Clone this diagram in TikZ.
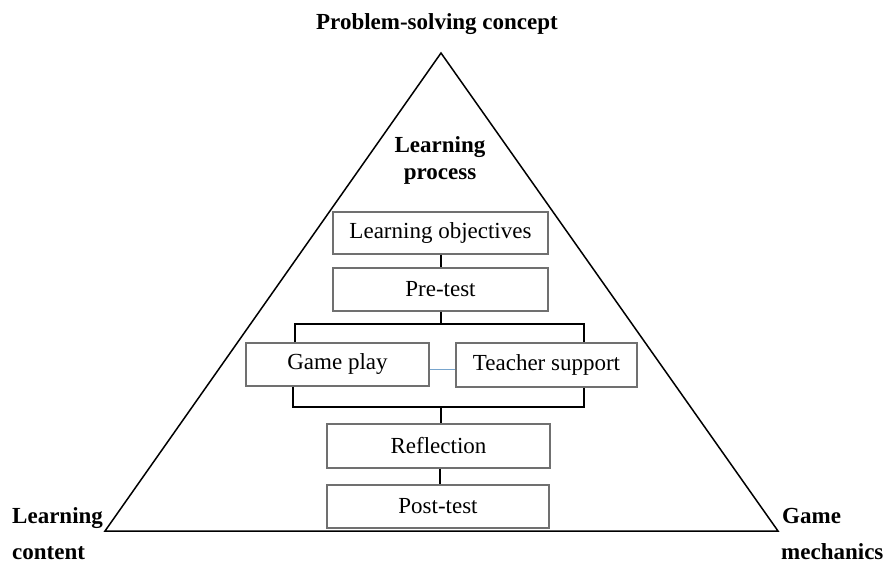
\documentclass[tikz,border=0pt]{standalone}
\usepackage{fontspec}
\setmainfont{Liberation Serif}
\definecolor{boxline}{RGB}{112,112,112}
\definecolor{softblue}{RGB}{120,165,205}
\begin{document}
\begin{tikzpicture}[x=1bp,y=-1bp,
  stepbox/.style={draw=boxline, line width=1.1bp, inner sep=0pt,
    font=\fontsize{23bp}{27bp}\selectfont, text=black},
  link/.style={line width=2bp, draw=black},
  heading/.style={font=\fontsize{23bp}{27bp}\selectfont\bfseries, inner sep=0pt},
]
\useasboundingbox (0,0) rectangle (887,564);

% outer triangle
\coordinate (apex) at (441,53);
\coordinate (lc) at (105,531);
\coordinate (rc) at (778,531);
\draw[line width=1.5bp] (apex) -- (rc) -- (lc) -- cycle;

% corner labels
\node[heading, anchor=base] (top) at (437,30) {Problem-solving concept};
\node[heading, anchor=base] (lp1) at (440,153) {Learning};
\node[heading, anchor=base] (lp2) at (440,180) {process};
\node[heading, anchor=base west] (lc1) at (12,523) {Learning};
\node[heading, anchor=base west] (lc2) at (12,559) {content};
\node[heading, anchor=base west] (gm1) at (782,523) {Game};
\node[heading, anchor=base west] (gm2) at (781,559) {mechanics};

% process steps
\node[stepbox, minimum width=215bp, minimum height=42bp] (obj) at (440.5,233) {Learning objectives};
\node[stepbox, minimum width=215bp, minimum height=43bp] (pre) at (440.5,289.5) {Pre-test};
\node[stepbox, minimum width=183bp, minimum height=43bp] (game) at (337.5,364.5) {Game play};
\node[stepbox, minimum width=181bp, minimum height=44bp] (teach) at (546.5,365) {Teacher support};
\node[stepbox, minimum width=223bp, minimum height=44bp] (refl) at (438.5,446) {Reflection};
\node[stepbox, minimum width=222bp, minimum height=43bp] (post) at (438,506.5) {Post-test};

% bracket junctions
\coordinate (tl) at (295,324);
\coordinate (tr) at (584,324);
\coordinate (bl) at (293,407);
\coordinate (br) at (584,407);
\coordinate (bm) at (441,407);
\coordinate (cm) at (440,0);
\coordinate (mid) at (0,369);

% connectors
\draw[link] (obj.south) -- (pre.north);
\draw[link] (pre.south) -- (pre.south |- tl);
\draw[link] (tl |- game.north) -- (tl) -- (tr) -- (tr |- teach.north);
\draw[link] (bl |- game.south) -- (bl) -- (br) -- (br |- teach.south);
\draw[link] (bm) -- (bm |- refl.north);
\draw[link] (cm |- refl.south) -- (cm |- post.north);
\draw[softblue, line width=0.8bp] (game.east |- mid) -- (teach.west |- mid);
\end{tikzpicture}
\end{document}
